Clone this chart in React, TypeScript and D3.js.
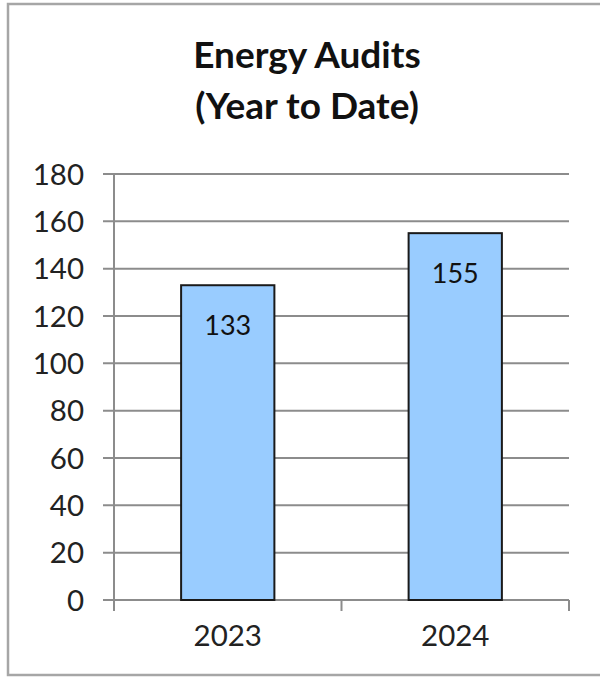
import React from "react";
import * as d3 from "d3";

const categories = ["2023", "2024"];
const values = [133, 155];
const yTicks = [0, 20, 40, 60, 80, 100, 120, 140, 160, 180];
const titleLines = ["Energy Audits", "(Year to Date)"];

const W = 600;
const H = 678;
const plot = { left: 114, right: 569, top: 174, bottom: 600 };
const FONT = "Lato, 'Open Sans', sans-serif";

export default function App() {
  const x = d3
    .scaleBand<string>()
    .domain(categories)
    .range([plot.left, plot.right])
    .paddingInner(0.59)
    .paddingOuter(0.295);
  const xb = d3.scaleBand<string>().domain(categories).range([plot.left, plot.right]);
  const y = d3.scaleLinear().domain([0, 180]).range([plot.bottom, plot.top]);

  const boundaries = [plot.left, ...categories.map((c) => (xb(c) as number) + xb.bandwidth())];

  return (
    <svg
      width={W}
      height={H}
      style={{ position: "absolute", left: 0, top: 0, background: "#fff" }}
      fontFamily={FONT}
    >
      <rect x={8} y={4} width={600} height={671} fill="#fff" stroke="#a6a6a6" strokeWidth={2.5} />
      {titleLines.map((t, i) => (
        <text
          key={t}
          x={307}
          y={68 + i * 51}
          textAnchor="middle"
          fontWeight={700}
          fontSize={37}
          fill="#111"
        >
          {t}
        </text>
      ))}
      {yTicks.map((t) => (
        <g key={t}>
          <line
            x1={plot.left - 11}
            x2={plot.right}
            y1={y(t)}
            y2={y(t)}
            stroke="#8c8c8c"
            strokeWidth={2}
          />
          <text
            x={84}
            y={y(t)}
            dy="0.36em"
            textAnchor="end"
            fontSize={29.5}
            fill="#222"
          >
            {t}
          </text>
        </g>
      ))}
      <line x1={plot.left} x2={plot.left} y1={plot.top} y2={plot.bottom + 11} stroke="#8c8c8c" strokeWidth={2} />
      {boundaries.map((b, i) => (
        <line key={i} x1={b} x2={b} y1={plot.bottom} y2={plot.bottom + 11} stroke="#8c8c8c" strokeWidth={2} />
      ))}
      {categories.map((c, i) => {
        const bx = x(c) as number;
        const by = y(values[i]);
        return (
          <g key={c}>
            <rect
              x={bx}
              y={by}
              width={x.bandwidth()}
              height={plot.bottom - by}
              fill="#99ccff"
              stroke="#1a1a1a"
              strokeWidth={2}
            />
            <text
              x={bx + x.bandwidth() / 2}
              y={by + 50}
              textAnchor="middle"
              fontSize={27}
              fill="#111"
            >
              {values[i]}
            </text>
            <text
              x={(xb(c) as number) + xb.bandwidth() / 2}
              y={646}
              textAnchor="middle"
              fontSize={29.5}
              fill="#222"
            >
              {c}
            </text>
          </g>
        );
      })}
    </svg>
  );
}
